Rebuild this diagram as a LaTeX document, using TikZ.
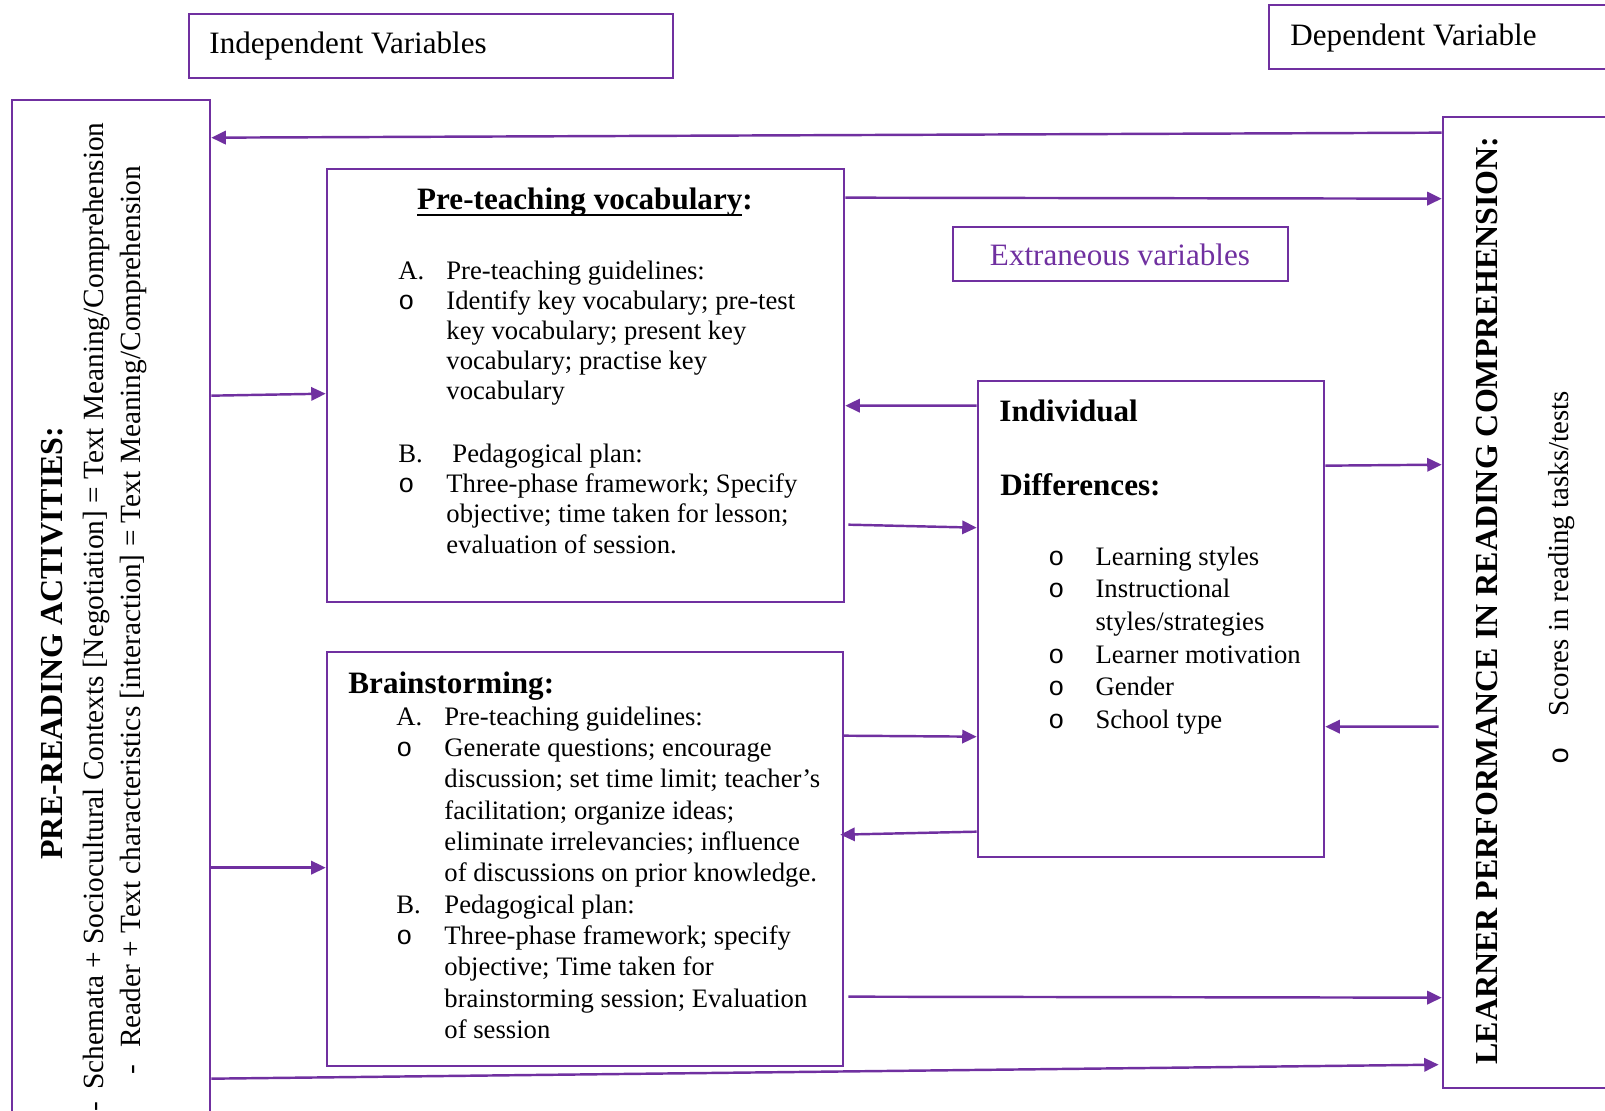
\documentclass[tikz,border=0pt]{standalone}
\usepackage{fontspec}
\setmainfont{Liberation Serif}
\setmonofont{Liberation Mono}
\usetikzlibrary{arrows.meta,calc,fit}
\definecolor{pur}{HTML}{7030A0}
\newcommand\myul[1]{\setbox0\hbox{#1}\rlap{\rule[-3.2pt]{\wd0}{0.9pt}}\box0}
\newcommand\bul{\texttt{o}}
\begin{document}
\begin{tikzpicture}[x=0.45pt,y=-0.45pt,
 box/.style={draw=pur, line width=1.2pt, inner sep=0pt},
 txt/.style={inner sep=0pt, font=\fontsize{12pt}{13.6pt}\selectfont},
 rtxt/.style={inner sep=0pt, font=\fontsize{13.2pt}{15pt}\selectfont},
 hd/.style={inner sep=0pt, font=\fontsize{14pt}{16pt}\selectfont\bfseries},
 bighd/.style={inner sep=0pt, font=\fontsize{14.4pt}{16pt}\selectfont\bfseries},
 lab/.style={inner sep=0pt, font=\fontsize{14pt}{16pt}\selectfont},
 arr/.style={draw=pur, line width=1.1pt, -{Triangle[length=6.5pt,width=6pt]}}]
\useasboundingbox (0,0) rectangle (1605,1111);
\clip (0,0) rectangle (1605,1111);
\fill[white] (0,0) rectangle (1605,1111);
% boxes
\node[box, fit={(189,14) (673,78)}] (iv) {};
\node[box, fit={(1269,5) (1620,69)}] (dv) {};
\node[box, fit={(12,100) (210,1130)}] (lbox) {};
\node[box, fit={(1443,117) (1620,1088)}] (rbox) {};
\node[box, fit={(327,169) (844,602)}] (pre) {};
\node[box, fit={(327,652) (843,1066)}] (brain) {};
\node[box, fit={(953,227) (1288,281)}] (ext) {};
\node[box, fit={(978,381) (1324,857)}] (ind) {};
% labels
\node[lab, anchor=base west] (ivt) at (209,53) {Independent Variables};
\node[lab, anchor=base west] (dvt) at (1290,45) {Dependent Variable};
\node[lab, anchor=base, text=pur] (extt) at (1120,265) {Extraneous variables};
% left box
\node[bighd, rotate=90, anchor=base west] (pra) at (63,860) {PRE-READING ACTIVITIES:};
\node[rtxt, rotate=90, anchor=base west] (s1) at (103,1112) {-\hspace{5.5pt}Schemata + Sociocultural Contexts [Negotiation] = Text Meaning/Comprehension};
\node[rtxt, rotate=90, anchor=base west] (s2) at (140,1075) {-\hspace{7.7pt}Reader + Text characteristics [interaction] = Text Meaning/Comprehension};
% right box
\node[bighd, rotate=90, anchor=base west] (lp) at (1497,1065) {LEARNER PERFORMANCE IN READING COMPREHENSION:};
\node[inner sep=0pt, font=\fontsize{13pt}{15pt}\selectfont, rotate=90, anchor=base west] (sc) at (1568,765) {\bul\hspace{14pt}Scores in reading tasks/tests};
% pre-teaching
\node[hd, anchor=base] (ptt) at (585,209) {\myul{Pre-teaching vocabulary}:};
\node[txt, anchor=base west] (ptb) at (398,279) {\begin{tabular}[t]{@{}p{21.6pt}@{}l@{}}
A. & Pre-teaching guidelines:\\
\bul & Identify key vocabulary; pre-test\\
 & key vocabulary; present key\\
 & vocabulary; practise key\\
 & vocabulary\\[14.5pt]
B. & \hspace{2.7pt}Pedagogical plan:\\
\bul & Three-phase framework; Specify\\
 & objective; time taken for lesson;\\
 & evaluation of session.
\end{tabular}};
% brainstorming
\node[hd, anchor=base west] (brt) at (348,693) {Brainstorming:};
\node[inner sep=0pt, font=\fontsize{12pt}{14.1pt}\selectfont, anchor=base west] (brb) at (396,725) {\begin{tabular}[t]{@{}p{21.6pt}@{}l@{}}
A. & Pre-teaching guidelines:\\
\bul & Generate questions; encourage\\
 & discussion; set time limit; teacher’s\\
 & facilitation; organize ideas;\\
 & eliminate irrelevancies; influence\\
 & of discussions on prior knowledge.\\
B. & Pedagogical plan:\\
\bul & Three-phase framework; specify\\
 & objective; Time taken for\\
 & brainstorming session; Evaluation\\
 & of session
\end{tabular}};
% individual differences
\node[hd, anchor=base west] (idt1) at (999,421) {Individual};
\node[hd, anchor=base west] (idt2) at (1000,495) {Differences:};
\node[inner sep=0pt, font=\fontsize{12pt}{14.7pt}\selectfont, anchor=base west] (idb) at (1048,565) {\begin{tabular}[t]{@{}p{21.2pt}@{}l@{}}
\bul & Learning styles\\
\bul & Instructional\\
 & styles/strategies\\
\bul & Learner motivation\\
\bul & Gender\\
\bul & School type
\end{tabular}};
% connectors
\draw[arr] ($(rbox.north west)+(0,17)$) -- ($(lbox.north east)+(0,39)$);
\draw[arr] ($(pre.north east)+(0,30)$) -- ($(rbox.north west)+(0,83)$);
\draw[arr] ($(lbox.north east)+(0,297)$) -- ($(pre.north west)+(0,226)$);
\draw[arr] ($(ind.north west)+(0,26)$) -- ($(pre.north east)+(0,238)$);
\draw[arr] ($(pre.north east)+(3,357)$) -- ($(ind.north west)+(0,148)$);
\draw[arr] ($(ind.north east)+(0,86)$) -- ($(rbox.north west)+(0,349)$);
\draw[arr] ($(rbox.north west)+(-3,611)$) -- ($(ind.north east)+(0,347)$);
\draw[arr] ($(brain.north east)+(-2,85)$) -- ($(ind.north west)+(0,357)$);
\draw[arr] ($(ind.north west)+(0,452)$) -- ($(brain.north east)+(-4,184)$);
\draw[arr] ($(lbox.north east)+(0,769)$) -- ($(brain.north west)+(0,217)$);
\draw[arr] ($(brain.north east)+(4,346)$) -- ($(rbox.north west)+(0,882)$);
\draw[arr] ($(lbox.north east)+(0,980)$) -- ($(rbox.north west)+(-3,949)$);
\end{tikzpicture}
\end{document}
